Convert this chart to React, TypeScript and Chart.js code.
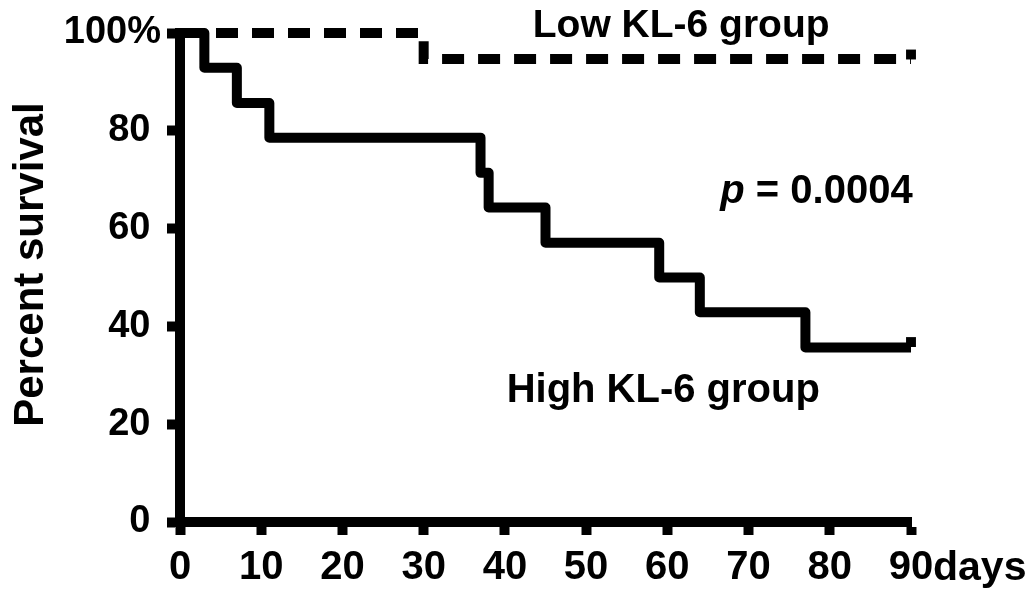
import React, { useEffect, useRef } from "react";
import { Chart, registerables } from "chart.js";

Chart.register(...registerables);

// ---- data ----
const highDays = [0, 3, 7, 11, 37, 38, 45, 59, 64, 77, 90];
const highSurvival = [100, 92.9, 85.7, 78.6, 71.4, 64.3, 57.1, 50, 42.9, 35.7, 35.7];
const lowDays = [0, 30, 90];
const lowSurvival = [100, 94.7, 94.7];
const highCensorDays = [90];
const highCensorSurvival = [36.8];
const lowCensorDays = [90];
const lowCensorSurvival = [95.6];
const xTicks = [0, 10, 20, 30, 40, 50, 60, 70, 80, 90];
const yTicks = [0, 20, 40, 60, 80, 100];
const yTickLabels = ["0 ", "20 ", "40 ", "60 ", "80 ", "100%"];
const yTitle = "Percent survival";
const xUnit = "days";
const lowLabel = "Low KL-6 group";
const highLabel = "High KL-6 group";
const pLabelItalic = "p";
const pLabelRest = " = 0.0004";

const FONT = "'Liberation Sans', Arial, sans-serif";
const NARROW = "'Liberation Sans Narrow', 'Arial Narrow', 'Liberation Sans', Arial, sans-serif";

const textPlugin = {
  id: "annotTexts",
  afterDraw(chart: any) {
    const ctx = chart.ctx;
    const xs = chart.scales.x;
    const ys = chart.scales.y;
    ctx.save();
    ctx.fillStyle = "#000";

    // y-axis title
    ctx.save();
    ctx.translate(0, (ys.getPixelForValue(0) + ys.getPixelForValue(100)) / 2 - 13);
    ctx.rotate(-Math.PI / 2);
    ctx.font = `bold 42px ${FONT}`;
    ctx.textAlign = "center";
    ctx.textBaseline = "alphabetic";
    ctx.fillText(yTitle, 0, 43);
    ctx.restore();

    // unit "days"
    ctx.font = `bold 41px ${FONT}`;
    ctx.textAlign = "left";
    ctx.textBaseline = "alphabetic";
    ctx.fillText(xUnit, xs.getPixelForValue(90) + 22, 580);

    // group labels
    ctx.font = `bold 39px ${FONT}`;
    ctx.textAlign = "center";
    ctx.fillText(lowLabel, xs.getPixelForValue(61.7), ys.getPixelForValue(99.2));
    ctx.font = `bold 40px ${FONT}`;
    ctx.fillText(highLabel, xs.getPixelForValue(59.5), ys.getPixelForValue(24.5));

    // p value
    const right = xs.getPixelForValue(90.2);
    const py = ys.getPixelForValue(65.2);
    ctx.textAlign = "right";
    ctx.font = `bold 40px ${FONT}`;
    const w = ctx.measureText(pLabelRest).width;
    ctx.fillText(pLabelRest, right, py);
    ctx.font = `italic bold 40px ${FONT}`;
    ctx.fillText(pLabelItalic, right - w, py);

    ctx.restore();
  },
};

export default function App() {
  const ref = useRef<HTMLCanvasElement | null>(null);

  useEffect(() => {
    if (!ref.current) return;
    const chart = new Chart(ref.current, {
      type: "line",
      data: {
        datasets: [
          {
            label: "High KL-6 group",
            data: highDays.map((d, i) => ({ x: d, y: highSurvival[i] })),
            borderColor: "#000",
            borderWidth: 10,
            stepped: true,
            pointRadius: 0,
            fill: false,
            clip: false as any,
            borderJoinStyle: "round",
            borderCapStyle: "butt",
          },
          {
            label: "Low KL-6 group",
            data: lowDays.map((d, i) => ({ x: d, y: lowSurvival[i] })),
            borderColor: "#000",
            borderWidth: 10,
            borderDash: [22, 14],
            stepped: true,
            pointRadius: 0,
            fill: false,
            clip: false as any,
            borderCapStyle: "butt",
          },
          {
            label: "High censored",
            data: highCensorDays.map((d, i) => ({ x: d, y: highCensorSurvival[i] })),
            showLine: false,
            pointStyle: "rect",
            pointRadius: 7,
            pointBorderWidth: 0,
            pointBackgroundColor: "#000",
            clip: false as any,
          },
          {
            label: "Low censored",
            data: lowCensorDays.map((d, i) => ({ x: d, y: lowCensorSurvival[i] })),
            showLine: false,
            pointStyle: "rect",
            pointRadius: 7,
            pointBorderWidth: 0,
            pointBackgroundColor: "#000",
            clip: false as any,
          },
        ],
      },
      options: {
        animation: false,
        responsive: false,
        layout: { padding: { top: 33, right: 124, left: 0, bottom: 0 } },
        plugins: { legend: { display: false }, tooltip: { enabled: false } },
        scales: {
          x: {
            type: "linear",
            min: 0,
            max: 90,
            afterFit: (s: any) => {
              s.height = 69;
              s.paddingLeft = 0;
              s.paddingRight = 0;
            },
            afterBuildTicks: (s: any) => {
              s.ticks = xTicks.map((v) => ({ value: v }));
            },
            border: { display: true, color: "#000", width: 10 },
            grid: {
              drawOnChartArea: false,
              drawTicks: true,
              tickLength: 13,
              tickWidth: 10,
              tickColor: "#000",
            },
            ticks: {
              color: "#000",
              padding: 9,
              maxRotation: 0,
              autoSkip: false,
              font: { family: NARROW, size: 40, weight: "bold" },
            },
          },
          y: {
            type: "linear",
            min: 0,
            max: 100,
            afterFit: (s: any) => {
              s.width = 180;
              s.paddingTop = 0;
              s.paddingBottom = 0;
            },
            afterBuildTicks: (s: any) => {
              s.ticks = yTicks.map((v) => ({ value: v }));
            },
            border: { display: true, color: "#000", width: 10 },
            grid: {
              drawOnChartArea: false,
              drawTicks: true,
              tickLength: 13,
              tickWidth: 10,
              tickColor: "#000",
            },
            ticks: {
              color: "#000",
              padding: 6,
              autoSkip: false,
              font: { family: FONT, size: 38, weight: "bold" },
              callback: (v: any) => {
                const i = yTicks.indexOf(Number(v));
                return i >= 0 ? yTickLabels[i] : "";
              },
            },
          },
        },
      },
      plugins: [textPlugin],
    });
    return () => chart.destroy();
  }, []);

  return (
    <div style={{ position: "fixed", left: 0, top: 0, width: 1035, height: 591, background: "#fff" }}>
      <canvas ref={ref} width={1035} height={591} style={{ width: 1035, height: 591, display: "block" }} />
    </div>
  );
}
